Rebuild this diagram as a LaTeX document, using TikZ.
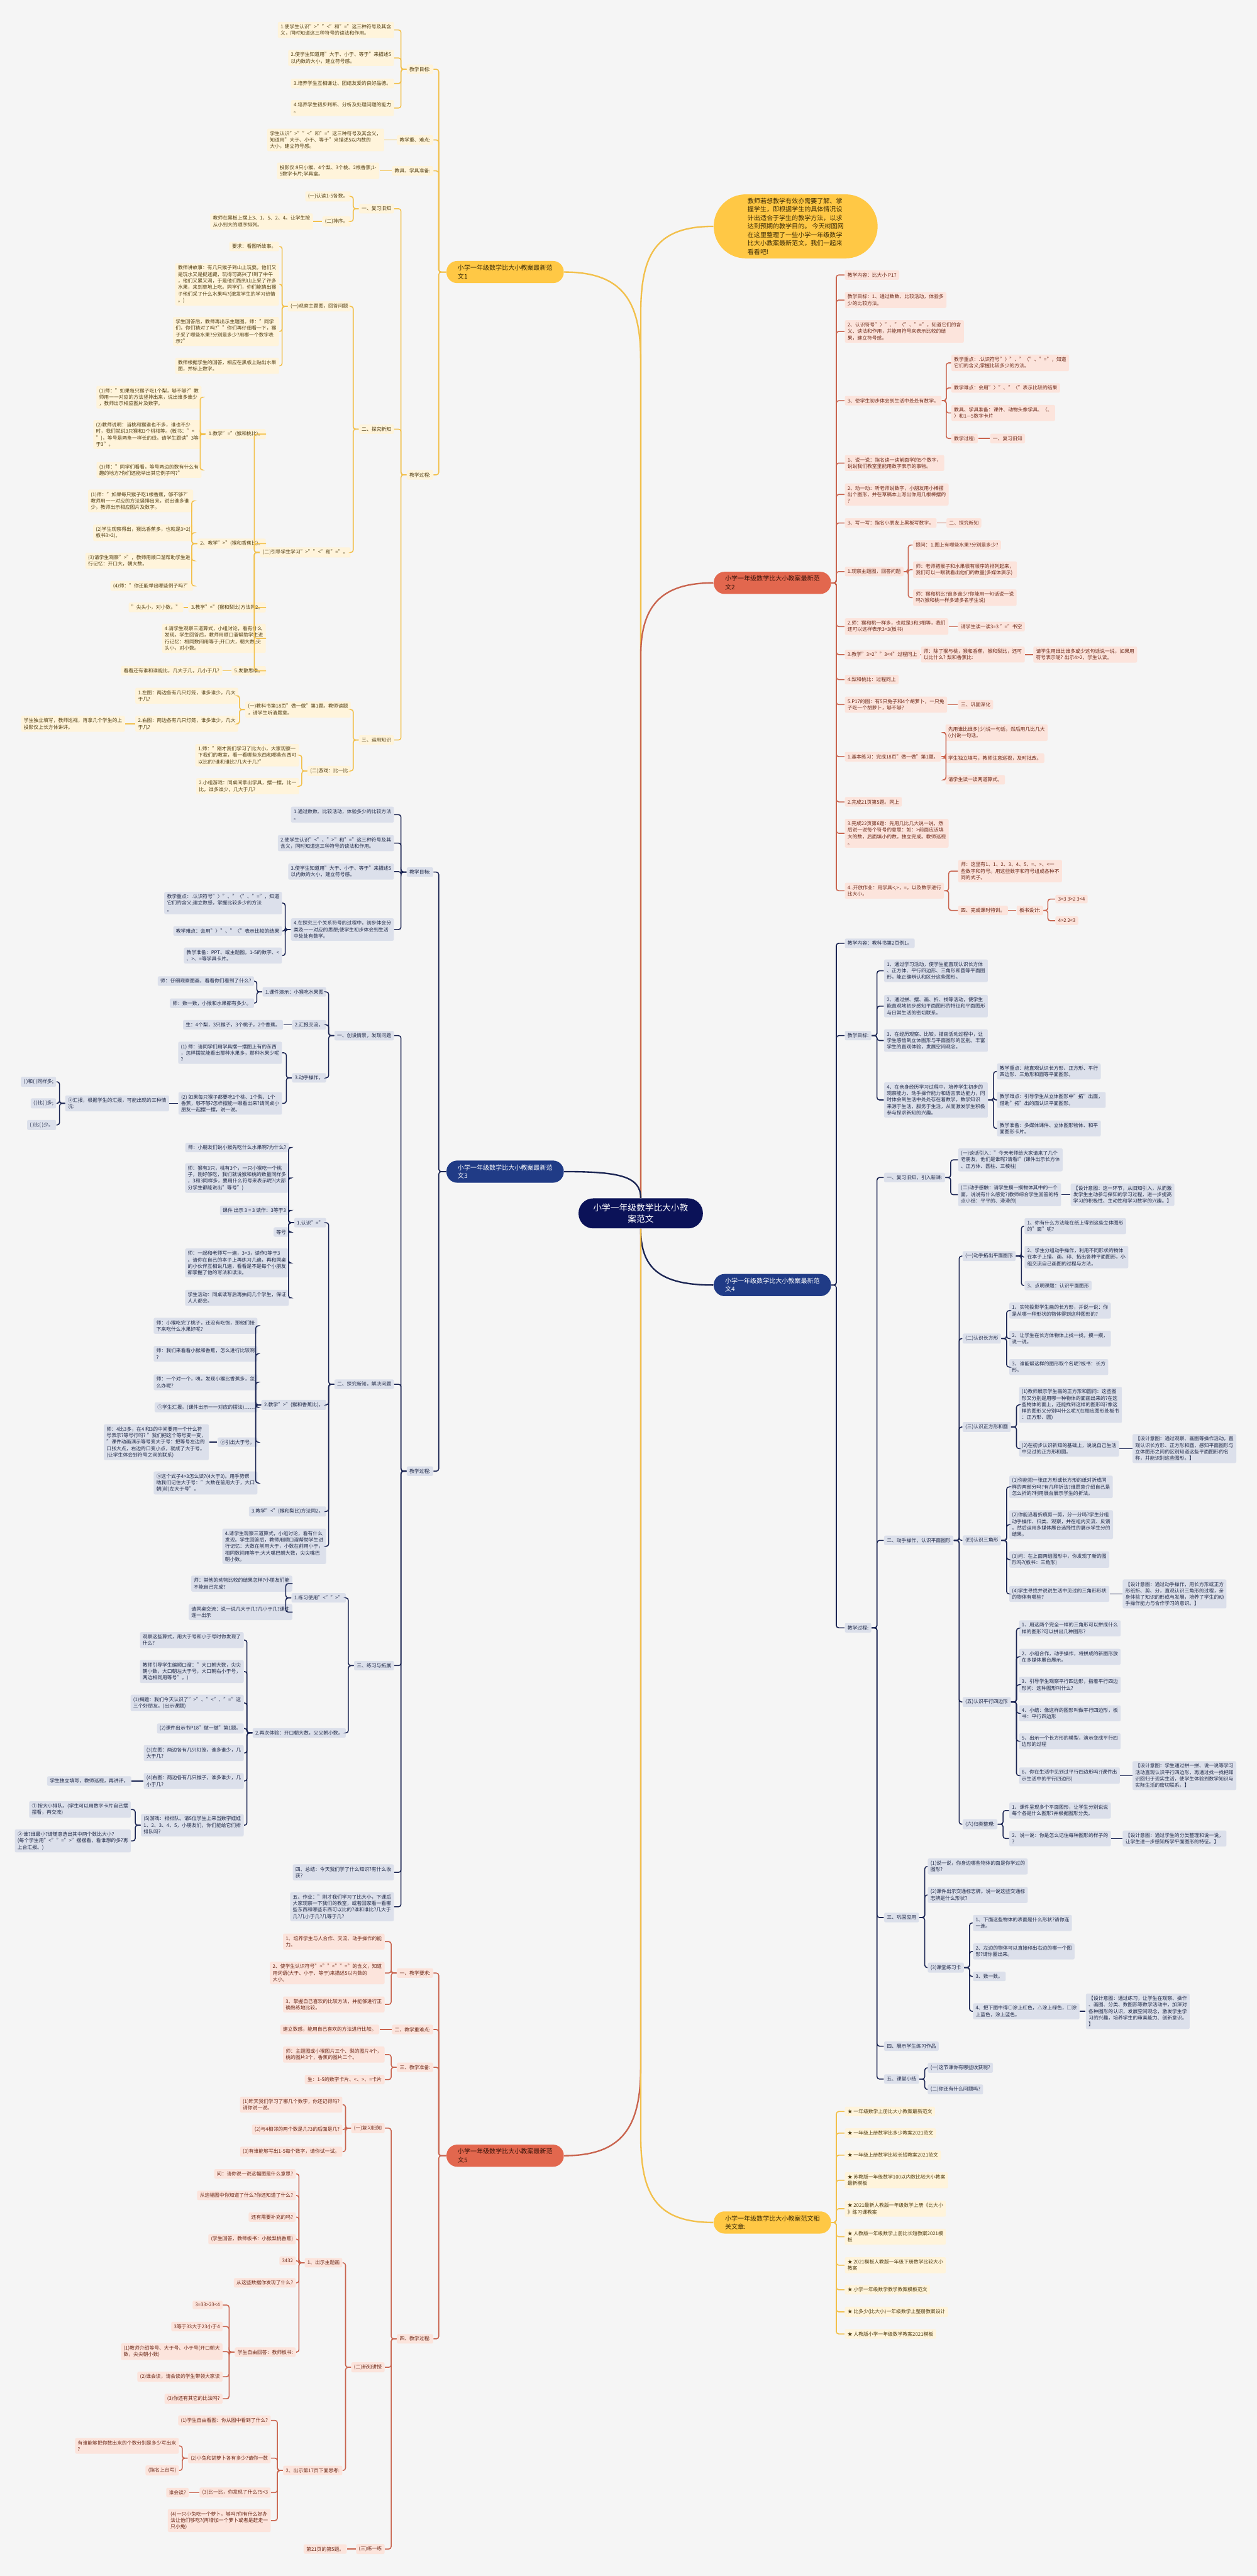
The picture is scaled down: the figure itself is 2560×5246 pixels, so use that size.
\documentclass[tikz,border=0pt]{standalone}
\usepackage{fontspec}
\setmainfont{Noto Sans CJK SC}
\usetikzlibrary{calc}

% colours
\definecolor{bgc}{HTML}{F5F5F5}
\definecolor{ctrc}{HTML}{0B1258}
\definecolor{ymain}{HTML}{FFC845}
\definecolor{ymtext}{HTML}{3B2A05}
\definecolor{yleaf}{HTML}{FFF4DB}
\definecolor{yline}{HTML}{F2C04B}
\definecolor{ytext}{HTML}{4F3C12}
\definecolor{rmain}{HTML}{E2674E}
\definecolor{rmtext}{HTML}{3A140A}
\definecolor{rleaf}{HTML}{FCE4DC}
\definecolor{rline}{HTML}{C9644E}
\definecolor{rtext}{HTML}{6B2818}
\definecolor{bmain}{HTML}{203B86}
\definecolor{bleaf}{HTML}{DCE0EB}
\definecolor{bline}{HTML}{1B2553}
\definecolor{btext}{HTML}{1F2846}

\newcommand\lvfont{\fontsize{2.85pt}{3.75pt}\selectfont}
\newcommand\mnfont{\fontsize{3.66pt}{4.9pt}\selectfont}
\newcommand\ctfont{\fontsize{5pt}{6.5pt}\selectfont}

\tikzset{
  leafbox/.style={rounded corners=0.3mm, inner xsep=0.55mm, inner ysep=0.5mm, align=left, font=\lvfont},
  ly/.style={leafbox, fill=yleaf, text=ytext},
  lr/.style={leafbox, fill=rleaf, text=rtext},
  lb/.style={leafbox, fill=bleaf, text=btext},
  mainbox/.style={rounded corners=2.2mm, inner xsep=2.3mm, inner ysep=0.8mm, align=left, font=\mnfont},
  my/.style={mainbox, fill=ymain, text=ymtext},
  mr/.style={mainbox, fill=rmain, text=rmtext},
  mb/.style={mainbox, fill=bmain, text=white},
  ky/.style={draw=yline, line width=0.2mm, rounded corners=0.5mm},
  kr/.style={draw=rline, line width=0.2mm, rounded corners=0.5mm},
  kb/.style={draw=bline, line width=0.2mm, rounded corners=0.5mm},
  cy/.style={draw=yline, line width=0.3mm},
  cr/.style={draw=rline, line width=0.3mm},
  cb/.style={draw=bline, line width=0.3mm}
}

\begin{document}
\begin{tikzpicture}[x=0.1mm, y=-0.1mm]
\fill[bgc] (0,0) rectangle (2560,5246);
\useasboundingbox (0,0) rectangle (2560,5246);

% Midden
\node[fill=ctrc, text=white, rounded corners=3mm, inner xsep=3mm, inner ysep=1.1mm, align=center, font=\ctfont] (ctr) at (1305,2471) {小学一年级数学比大小教\\案范文};

% Inleiding
\node[fill=ymain, text=ymtext, rounded corners=6.5mm, inner xsep=6.9mm, inner ysep=0.75mm, align=left, font=\mnfont, anchor=west] (intro) at (1453,461)
  {教师若想教学有效亦需要了解、掌\\握学生，即根据学生的具体情况设\\计出适合于学生的教学方法，以求\\达到预期的教学目的。 今天树图网\\在这里整理了一些小学一年级数学\\比大小教案最新范文，我们一起来\\看看吧!};

\begin{scope}[nodes={anchor=east}]
% ----范文1 ----
\node[my] (a) at (1149,554) {小学一年级数学比大小教案最新范\\文1};
\node[ly] (a1) at (883,141) {教学目标:};
\node[ly] (a2) at (883,285) {教学重、难点:};
\node[ly] (a3) at (883,348) {教具、学具准备:};
\node[ly] (a4) at (883,967) {教学过程:};
\node[ly] (a11) at (803,61) {1.使学生认识">""<"和"="这三种符号及其含\\义，同时知道这三种符号的读法和作用。};
\node[ly] (a12) at (803,118) {2.使学生知道用"大于、小于、等于"来描述5\\以内数的大小，建立符号感。};
\node[ly] (a13) at (803,170) {3.培养学生互相谦让、团结友爱的良好品德。};
\node[ly] (a14) at (803,220) {4.培养学生初步判断、分析及处理问题的能力\\。};
\node[ly] (a21) at (783,285) {学生认识">""<"和"="这三种符号及其含义，\\知道用"大于、小于、等于"来描述5以内数的\\大小，建立符号感。};
\node[ly] (a31) at (773,348) {投影仪:9只小猴、4个梨、3个桃、2根香蕉;1-\\5数字卡片;学具盒。};
\node[ly] (a41) at (803,425) {一、复习旧知};
\node[ly] (a42) at (803,874) {二、探究新知};
\node[ly] (a43) at (803,1507) {三、运用知识};
\node[ly] (a411) at (715,400) {(一)认读1-5各数。};
\node[ly] (a412) at (715,451) {(二)排序。};
\node[ly] (a4121) at (638,451) {教师在黑板上摆上3、1、5、2、4。让学生按\\从小到大的顺序排列。};
\node[ly] (a421) at (715,624) {(一)观察主题图，回答问题};
\node[ly] (a422) at (715,1125) {(二)引导学生学习">""<"和"="。};
\node[ly] (a4211) at (569,502) {要求：看图听故事。};
\node[ly] (a4212) at (569,579) {教师讲故事：有几只猴子到山上玩耍。他们又\\是玩水又是捉迷藏，玩得可高兴了!到了中午\\，他们又累又渴，于是他们跑到山上采了许多\\水果，来到草地上吃。同学们，你们能猜出猴\\子他们采了什么水果吗?(激发学生的学习热情\\。)};
\node[ly] (a4213) at (569,675) {学生回答后，教师再出示主题图。师："同学\\们，你们猜对了吗?""你们再仔细看一下，猴\\子采了哪些水果?分别是多少?用哪一个数字表\\示?"};
\node[ly] (a4214) at (569,745) {教师根据学生的回答，相应在黑板上贴出水果\\图，并标上数字。};
\node[ly] (a4221) at (542,884) {1.教学"="(猴和桃比)。};
\node[ly] (a4222) at (542,1107) {2、教学">"(猴和香蕉比)。};
\node[ly] (a4223) at (542,1237) {3.教学"<"(猴和梨比)方法同2。};
\node[ly] (a4224) at (542,1300) {4.请学生观察三道算式，小组讨论，看有什么\\发现。学生回答后，教师用顺口溜帮助学生进\\行记忆：相同数间用等于;开口大，朝大数;尖\\头小，对小数。};
\node[ly] (a4225) at (542,1366) {5.发散思维。};
\node[ly] (a42211) at (411,809) {(1)师："如果每只猴子吃1个梨，够不够?"教\\师用一一对应的方法竖排出来，说出谁多谁少\\，教师出示相应图片及数字。};
\node[ly] (a42212) at (411,885) {(2)教师说明：当桃和猴谁也不多，谁也不少\\时，我们就说3只猴和3个桃相等。(板书："=\\")，等号是两条一样长的线，请学生跟读"3等\\于3"。};
\node[ly] (a42213) at (411,957) {(3)师："同学们看看，等号两边的数有什么有\\趣的地方?你们还能举出其它例子吗?"};
\node[ly] (a42221) at (394,1020) {(1)师："如果每只猴子吃1根香蕉，够不够?"\\教师用一一对应的方法竖排出来，说出谁多谁\\少，教师出示相应图片及数字。};
\node[ly] (a42222) at (394,1085) {(2)学生观察得出，猴比香蕉多，也就是3>2(\\板书3>2)。};
\node[ly] (a42223) at (394,1142) {(3)请学生观察">"，教师用顺口溜帮助学生进\\行记忆：开口大，朝大数。};
\node[ly] (a42224) at (394,1193) {(4)师："你还能举出哪些例子吗?"};
\node[ly] (a42231) at (374,1237) {"尖头小，对小数。"};
\node[ly] (a42251) at (453,1366) {看看还有谁和谁能比，几大于几，几小于几?};
\node[ly] (a431) at (715,1445) {(一)教科书第18页"做一做"第1题。教师读题\\，请学生听清题意。};
\node[ly] (a432) at (715,1570) {(二)游戏：比一比};
\node[ly] (a4311) at (486,1417) {1.左图：两边各有几只灯笼，谁多谁少，几大\\于几?};
\node[ly] (a4312) at (486,1474) {2.右图：两边各有几只灯笼，谁多谁少，几大\\于几?};
\node[ly] (a43121) at (255,1474) {学生独立填写，教师巡视，再拿几个学生的上\\投影仪上长方体讲评。};
\node[ly] (a4321) at (610,1538) {1.师："刚才我们学习了比大小，大家观察一\\下我们的教室，看一看哪些东西和哪些东西可\\以比的?谁和谁比?几大于几?"};
\node[ly] (a4322) at (610,1601) {2.小组游戏：同桌间拿出学具，摆一摆，比一\\比，谁多谁少，几大于几?};

% ----范文3 ----
\node[mb] (c) at (1149,2386) {小学一年级数学比大小教案最新范\\文3};
\node[lb] (c1) at (883,1776) {教学目标:};
\node[lb] (c2) at (883,2996) {教学过程:};
\node[lb] (c11) at (803,1659) {1.通过数数、比较活动，体验多少的比较方法\\。};
\node[lb] (c12) at (803,1717) {2.使学生认识"<"、">"和"="这三种符号及其\\含义，同时知道这三种符号的读法和作用。};
\node[lb] (c13) at (803,1775) {3.使学生知道用"大于、小于、等于"来描述5\\以内数的大小，建立符号感。};
\node[lb] (c14) at (803,1893) {4.在探究三个关系符号的过程中，初步体会分\\类及一一对应的思想;使学生初步体会到生活\\中处处有数学。};
\node[lb] (c141) at (575,1839) {教学重点：.认识符号"〉"、"〈"、"="，知道\\它们的含义;建立数感，掌握比较多少的方法\\。};
\node[lb] (c142) at (575,1896) {教学难点：会用"〉"、"〈"表示比较的结果};
\node[lb] (c143) at (575,1946) {教学准备：PPT、或主题图。1-5的数字、<\\、>、=等学具卡片。};
\node[lb] (c21) at (803,2109) {一、创设情景，发现问题};
\node[lb] (c22) at (803,2819) {二、探究新知，解决问题};
\node[lb] (c23) at (803,3392) {三、练习与拓展};
\node[lb] (c24) at (803,3813) {四、总结：今天我们学了什么知识?有什么收\\获?};
\node[lb] (c25) at (803,3883) {五、作业："刚才我们学习了比大小，下课后\\大家观察一下我们的教室，或者回家看一看哪\\些东西和哪些东西可以比的?谁和谁比?几大于\\几?几小于几?几等于几?};
\node[lb] (c211) at (665,2020) {1.课件演示：小猴吃水果图};
\node[lb] (c212) at (665,2087) {2.汇报交流。};
\node[lb] (c213) at (665,2195) {3.动手操作。};
\node[lb] (c2111) at (518,1998) {师：仔细观察图画，看看你们看到了什么?};
\node[lb] (c2112) at (518,2043) {师：数一数，小猴和水果都有多少。};
\node[lb] (c2121) at (577,2087) {生：4个梨，3只猴子，3个桃子，2个香蕉。};
\node[lb] (c2131) at (575,2144) {(1) 师：请同学们用学具摆一摆图上有的东西\\，怎样摆就能看出那种水果多，那种水果少呢\\?};
\node[lb] (c2132) at (575,2247) {(2) 如果每只猴子都要吃1个桃、1个梨、1个\\香蕉，够不够?怎样摆能一眼看出来?请同桌小\\朋友一起摆一摆，说一说。};
\node[lb] (c21321) at (345,2247) {②汇报，根据学生的汇报，可能出现的三种情\\况:};
\node[lb] (c213211) at (115,2203) {( )和( )同样多;};
\node[lb] (c213212) at (115,2247) {( )比( )多;};
\node[lb] (c213213) at (115,2291) {( )比( )少。};
\node[lb] (c221) at (665,2490) {1.认识"="};
\node[lb] (c222) at (665,2861) {2.教学">"(猴和香蕉比)。};
\node[lb] (c223) at (665,3078) {3.教学"<"(猴和梨比)方法同2。};
\node[lb] (c224) at (665,3149) {4.请学生观察三道算式，小组讨论，看有什么\\发现。学生回答后，教师用顺口溜帮助学生进\\行记忆：大数在前用大于，小数在前用小于，\\相同数间用等于;大大嘴巴朝大数，尖尖嘴巴\\朝小数。};
\node[lb] (c2211) at (589,2337) {师：小朋友们说小猴先吃什么水果啊?为什么?};
\node[lb] (c2212) at (589,2399) {师：猴有3只，桃有3个，一只小猴吃一个桃\\子，刚好够吃，我们就说猴和桃的数量同样多\\，3和3同样多，要用什么符号来表示呢?(大部\\分学生都能说出"等号")};
\node[lb] (c2213) at (589,2465) {课件 出示 3 = 3 读作：3等于3};
\node[lb] (c2214) at (589,2509) {等号};
\node[lb] (c2215) at (589,2572) {师：一起和老师写一遍，3=3，读作3等于3\\。请你在自己的本子上再练习几遍，再和同桌\\的小伙伴互相说几遍，看看是不是每个小朋友\\都掌握了他的写法和读法。};
\node[lb] (c2216) at (589,2643) {学生活动：同桌读写后再抽问几个学生，保证\\人人都会。};
\node[lb] (c2221) at (525,2700) {师：小猴吃完了桃子，还没有吃饱，那他们接\\下来吃什么水果好呢?};
\node[lb] (c2222) at (525,2757) {师：我们来看看小猴和香蕉，怎么进行比较啊\\?};
\node[lb] (c2223) at (525,2815) {师：一个对一个，咦，发现小猴比香蕉多，怎\\么办呢?};
\node[lb] (c2224) at (525,2866) {①学生汇报。(课件出示一一对应的摆法)……};
\node[lb] (c2225) at (525,2937) {②引出大于号。};
\node[lb] (c2226) at (525,3020) {③这个式子4>3怎么读?(4大于3)。用手势帮\\助我们记住大于号："大数在前用大于，大口\\朝(前)左大于号"。};
\node[lb] (c22251) at (426,2937) {师：4比3多，在4 和3的中间要用一个什么符\\号表示?等号行吗? "我们把这个等号变一变，\\"课件动画演示等号变大于号：把等号左边的\\口张大点，右边的口变小点，就成了大于号。\\(让学生体会到符号之间的联系)};
\node[lb] (c231) at (705,3254) {1.练习使用"<"">"};
\node[lb] (c232) at (705,3529) {2.再次体验：开口朝大数，尖尖朝小数。};
\node[lb] (c2311) at (596,3225) {师：其他的动物比较的结果怎样?小朋友们能\\不能自己完成?};
\node[lb] (c2312) at (596,3283) {请同桌交流：说一说几大于几?几小于几?课件\\逐一出示};
\node[lb] (c2321) at (497,3340) {观察这些算式，用大于号和小于号时你发现了\\什么?};
\node[lb] (c2322) at (497,3404) {教师引导学生编顺口溜："大口朝大数，尖尖\\朝小数，大口朝左大于号，大口朝右小于号，\\两边相同用等号"。)};
\node[lb] (c2323) at (497,3468) {(1)揭题：我们今天认识了">"、"<"、"="这\\三个好朋友。(出示课题)};
\node[lb] (c2324) at (497,3520) {(2)课件出示书P18"做一做"第1题。};
\node[lb] (c2325) at (497,3570) {(3)左图：两边各有几只灯笼，谁多谁少，几\\大于几?};
\node[lb] (c2326) at (497,3627) {(4)右图：两边各有几只猴子，谁多谁少，几\\小于几?};
\node[lb] (c2327) at (497,3717) {(5)游戏：排排队。请5位学生上来当数字娃娃\\1、2、3、4、5，小朋友们，你们能给它们排\\排队吗?};
\node[lb] (c23261) at (268,3627) {学生独立填写，教师巡视，再讲评。};
\node[lb] (c23271) at (267,3685) {① 按大小排队。(学生可以用数字卡片自己摆\\摆看，再交流)};
\node[lb] (c23272) at (267,3749) {② 谁?谁最小?请随意选出其中两个数比大小?\\(每个学生用"<""=">"摆摆看，看谁想的多?再\\上台汇报。)};

% ----范文5 ----
\node[mr] (e) at (1149,4390) {小学一年级数学比大小教案最新范\\文5};
\node[lr] (e1) at (883,4018) {一、教学要求:};
\node[lr] (e2) at (883,4133) {二、教学重难点:};
\node[lr] (e3) at (883,4210) {三、教学准备:};
\node[lr] (e4) at (883,4763) {四、教学过程:};
\node[lr] (e11) at (784,3954) {1、培养学生与人合作、交流、动手操作的能\\力。};
\node[lr] (e12) at (784,4018) {2、使学生认识符号">""<""="的含义，知道\\用词语(大于、小于、等于)来描述5以内数的\\大小。};
\node[lr] (e13) at (784,4082) {3、掌握自己喜欢的比较方法，并能够进行正\\确熟练地比较。};
\node[lr] (e21) at (773,4133) {建立数感，能用自己喜欢的方法进行比较。};
\node[lr] (e31) at (784,4184) {师：主题图或小猴图片三个、梨的图片4个，\\桃的图片3个，香蕉的图片二个。};
\node[lr] (e32) at (784,4235) {生：1-5的数字卡片、<、>、=卡片};
\node[lr] (e41) at (784,4334) {(一)复习旧知};
\node[lr] (e42) at (784,4821) {(二)新知讲授};
\node[lr] (e43) at (784,5191) {(三)练一练};
\node[lr] (e411) at (698,4286) {(1)昨天我们学习了哪几个数字，你还记得吗?\\请你说一说。};
\node[lr] (e412) at (698,4337) {(2)与4相邻的两个数是几?3的后面是几?};
\node[lr] (e413) at (698,4382) {(3)有谁能够写出1-5每个数字，请你试一试。};
\node[lr] (e421) at (698,4608) {1、出示主题画};
\node[lr] (e422) at (698,5031) {2、出示第17页下面思考:};
\node[lr] (e4211) at (603,4427) {问：请你说一说这幅图是什么意思?};
\node[lr] (e4212) at (603,4471) {从这幅图中你知道了什么?你还知道了什么?};
\node[lr] (e4213) at (603,4515) {还有需要补充的吗?};
\node[lr] (e4214) at (603,4560) {(学生回答，教师板书：小猴梨桃香蕉)};
\node[lr] (e4215) at (603,4604) {3432};
\node[lr] (e4216) at (603,4649) {从这些数据你发现了什么?};
\node[lr] (e4217) at (603,4790) {学生自由回答：教师板书:};
\node[lr] (e42171) at (454,4694) {3=33>23<4};
\node[lr] (e42172) at (454,4738) {3等于33大于23小于4};
\node[lr] (e42173) at (454,4789) {(1)教师介绍等号、大于号、小于号(开口朝大\\数，尖尖朝小数)};
\node[lr] (e42174) at (454,4840) {(2)谁会读，请会读的学生带领大家读};
\node[lr] (e42175) at (454,4885) {(3)你还有其它的比法吗?};
\node[lr] (e4221) at (552,4929) {(1)学生自由看图：你从图中看到了什么?};
\node[lr] (e4222) at (552,5006) {(2)小兔和胡萝卜各有多少?请你一数};
\node[lr] (e4223) at (552,5076) {(3)比一比，你发现了什么?5<3};
\node[lr] (e4224) at (552,5133) {(4)一只小兔吃一个萝卜，够吗?你有什么好办\\法让他们够吃?(再增加一个萝卜或者是赶走一\\只小兔)};
\node[lr] (e42221) at (365,4981) {有谁能够把你数出来的个数分别是多少写出来\\?};
\node[lr] (e42222) at (365,5031) {(指名上台写)};
\node[lr] (e42231) at (385,5076) {谁会读?};
\node[lr] (e431) at (707,5191) {第21页的第5题。};
\end{scope}

\begin{scope}[nodes={anchor=west}]
% ----范文2 ----
\node[mr] (b) at (1453,1187) {小学一年级数学比大小教案最新范\\文2};
\node[lr] (b1) at (1720,560) {教学内容：比大小 P17};
\node[lr] (b2) at (1720,611) {教学目标：1、通过数数、比较活动，体验多\\少的比较方法。};
\node[lr] (b3) at (1720,675) {2、认识符号"〉"、"〈"、"="，知道它们的含\\义、读法和作用，并能用符号来表示比较的结\\果，建立符号感。};
\node[lr] (b4) at (1720,816) {3、使学生初步体会到生活中处处有数学。};
\node[lr] (b5) at (1720,943) {1、说一说：指名读一读前面学的5个数字，\\说说我们教室里能用数字表示的事物。};
\node[lr] (b6) at (1720,1007) {2、动一动：听老师说数字，小朋友用小棒摆\\出个图形，并在草稿本上写出你用几根棒摆的\\?};
\node[lr] (b7) at (1720,1065) {3、写一写：指名小朋友上黑板写数字。};
\node[lr] (b8) at (1720,1164) {1.观察主题图，回答问题};
\node[lr] (b9) at (1720,1276) {2.师：猴和桃一样多，也就是3和3相等，我们\\还可以这样表示3=3(板书)};
\node[lr] (b10) at (1720,1333) {3.教学"3>2""3<4"过程同上};
\node[lr] (b11) at (1720,1384) {4.梨和桃比：过程同上};
\node[lr] (b12) at (1720,1435) {5.P17的图：有5只兔子和4个胡萝卜，一只兔\\子吃一个胡萝卜，够不够?};
\node[lr] (b13) at (1720,1541) {1.基本练习：完成18页"做一做"第1题。};
\node[lr] (b14) at (1720,1633) {2.完成21页第5题。同上};
\node[lr] (b15) at (1720,1697) {3.完成22页第6题：先用几比几大说一说，然\\后说一说每个符号的意思：如：>前面应该填\\大的数，后面填小的数。独立完成。教师巡视\\。};
\node[lr] (b16) at (1720,1814) {4..开放作业：用学具<,>，=，以及数字进行\\比大小。};
\node[lr] (b41) at (1937,739) {教学重点：.认识符号"〉"、"〈"、"="，知道\\它们的含义;掌握比较多少的方法。};
\node[lr] (b42) at (1937,790) {教学难点：会用"〉"、"〈"表示比较的结果};
\node[lr] (b43) at (1937,841) {教具、学具准备：课件、动物头像学具、〈、\\〉和1—5数字卡片};
\node[lr] (b44) at (1937,893) {教学过程:};
\node[lr] (b441) at (2016,893) {一、复习旧知};
\node[lr] (b71) at (1927,1065) {二、探究新知};
\node[lr] (b81) at (1859,1110) {提问：1.图上有哪些水果?分别是多少?};
\node[lr] (b82) at (1859,1160) {师：老师把猴子和水果很有顺序的排列起来，\\我们可以一眼就看出他们的数量(多媒体演示)};
\node[lr] (b83) at (1859,1217) {师：猴和桃比?谁多谁少?你能用一句话说一说\\吗?(猴和桃一样多请多名学生说)};
\node[lr] (b91) at (1951,1276) {请学生读一读3=3 "="书空};
\node[lr] (b101) at (1875,1333) {师：除了猴与桃，猴和香蕉，猴和梨比，还可\\以比什么? 梨和香蕉比:};
\node[lr] (b1011) at (2104,1333) {请学生用谁比谁多或少这句话说一说，如果用\\符号表示呢? 出示4>2，学生认读。};
\node[lr] (b121) at (1951,1435) {三、巩固深化};
\node[lr] (b131) at (1925,1492) {先用谁比谁多(少)说一句话，然后用几比几大\\(小)说一句话。};
\node[lr] (b132) at (1925,1544) {学生独立填写，教师注意巡视，及时批改。};
\node[lr] (b133) at (1925,1588) {请学生读一读两道算式。};
\node[lr] (b161) at (1951,1774) {师：这里有1、1、2、3、4、5、=、>、<一\\些数字和符号。用这些数字和符号组成各种不\\同的式子。};
\node[lr] (b162) at (1951,1854) {四、完成课时特训。};
\node[lr] (b1621) at (2070,1854) {板书设计:};
\node[lr] (b16211) at (2149,1831) {3=3 3>2 3<4};
\node[lr] (b16212) at (2149,1875) {4>2 2<3};

% ----范文4 ----
\node[mb] (d) at (1453,2617) {小学一年级数学比大小教案最新范\\文4};
\node[lb] (d1) at (1720,1921) {教学内容：教科书第2页例1。};
\node[lb] (d2) at (1720,2109) {教学目标:};
\node[lb] (d3) at (1720,3315) {教学过程:};
\node[lb] (d21) at (1800,1977) {1、通过学习活动，使学生能直观认识长方体\\、正方体、平行四边形、三角形和圆等平面图\\形，能正确辨认和区分这些图形。};
\node[lb] (d22) at (1800,2049) {2、通过拼、摆、画、折、找等活动，使学生\\能直观地初步感知平面图形的特征和平面图形\\与日常生活的密切联系。};
\node[lb] (d23) at (1800,2119) {3、在经历观察、比较，描画活动过程中，让\\学生感悟到立体图形与平面图形的区别。丰富\\学生的直观体验，发展空间观念。};
\node[lb] (d24) at (1800,2240) {4、在亲身经历学习过程中，培养学生初步的\\观察能力、动手操作能力和语言表达能力，同\\时体会到生活中处处存在着数学，数学知识\\来源于生活，服务于生活，从而激发学生积极\\参与探求新知的兴趣。};
\node[lb] (d241) at (2030,2182) {教学重点：能直观认识长方形、正方形、平行\\四边形、三角形和圆等平面图形。};
\node[lb] (d242) at (2030,2240) {教学难点：引导学生从立体图形中"拓"出面，\\借助"拓"出的面认识平面图形。};
\node[lb] (d243) at (2030,2298) {教学准备：多媒体课件、立体图形物体、和平\\面图形卡片。};
\node[lb] (d31) at (1800,2398) {一、复习旧知，引入新课:};
\node[lb] (d32) at (1800,3137) {二、动手操作，认识平面图形};
\node[lb] (d33) at (1800,3905) {三、巩固应用};
\node[lb] (d34) at (1800,4167) {四、展示学生练习作品};
\node[lb] (d35) at (1800,4234) {五、课堂小结};
\node[lb] (d311) at (1951,2362) {(一)谈话引入："今天老师给大家请来了几个\\老朋友，他们是谁呢?请看!"(课件出示长方体\\、正方体、圆柱、三棱柱)};
\node[lb] (d312) at (1951,2433) {(二)动手感触：请学生摸一摸物体其中的一个\\面，说说有什么感觉?(教师综合学生回答的特\\点小结：平平的、滑滑的)};
\node[lb] (d3121) at (2180,2433) {【设计意图：这一环节，从旧知引入，从而激\\发学生主动参与探知的学习过程，进一步提高\\学习的积极性、主动性和学习数学的兴趣。】};
\node[lb] (d321) at (1960,2558) {(一)动手拓出平面图形};
\node[lb] (d322) at (1960,2726) {(二)认识长方形};
\node[lb] (d323) at (1960,2906) {(三)认识正方形和圆};
\node[lb] (d324) at (1960,3137) {(四)认识三角形};
\node[lb] (d325) at (1960,3466) {(五)认识平行四边形};
\node[lb] (d326) at (1960,3715) {(六)归类整理:};
\node[lb] (d3211) at (2086,2497) {1、你有什么方法能在纸上得到这些立体图形\\的"面"呢?};
\node[lb] (d3212) at (2086,2560) {2、学生分组动手操作，利用不同形状的物体\\在本子上描、画、印、拓出各种平面图形，小\\组交流自己画图的过程与方法。};
\node[lb] (d3213) at (2086,2618) {3、点明课题：认识平面图形};
\node[lb] (d3221) at (2055,2669) {1、实物投影学生画的长方形，并说一说：你\\是从哪一种形状的物体得到这种图形的?};
\node[lb] (d3222) at (2055,2726) {2、让学生在长方体物体上找一找，摸一摸，\\说一说。};
\node[lb] (d3223) at (2055,2784) {3、谁能帮这样的图形取个名呢?板书：长方\\形。};
\node[lb] (d3231) at (2075,2861) {(1)教师展示学生画的正方形和圆问：这些图\\形又分别是用哪一种物体的面画出来的?在这\\些物体的面上，还能找到这样的图形吗?像这\\样的图形又分别叫什么呢?(在相应图形处板书\\：正方形、圆)};
\node[lb] (d3232) at (2075,2950) {(2)在初步认识新知的基础上，说说自己生活\\中见过的正方形和圆。};
\node[lb] (d32321) at (2306,2950) {【设计意图：通过观察、画图等操作活动，直\\观认识长方形、正方形和圆，感知平面图形与\\立体图形之间的区别知道这些平面图形的名\\称，并能识别这些图形。】};
\node[lb] (d3241) at (2055,3028) {(1)你能把一张正方形或长方形的纸对折成同\\样的两部分吗?有几种折法?谁愿意介绍自己是\\怎么折的?利用展台展示学生的折法。};
\node[lb] (d3242) at (2055,3105) {(2)你能沿着折痕剪一剪，分一分吗?学生分组\\动手操作、归类、观察，并在组内交流、反馈\\。然后运用多媒体展台选择性的展示学生分的\\结果。};
\node[lb] (d3243) at (2055,3176) {(3)问：在上面两组图形中，你发现了新的图\\形吗?(板书：三角形)};
\node[lb] (d3244) at (2055,3246) {(4)学生寻找并说说生活中见过的三角形形状\\的物体有哪些?};
\node[lb] (d32441) at (2286,3246) {【设计意图：通过动手操作，用长方形或正方\\形纸折、剪、分，直观认识三角形的过程，亲\\身体验了知识的形成与发展，培养了学生的动\\手操作能力与合作学习的意识。】};
\node[lb] (d3251) at (2075,3316) {1、用这两个完全一样的三角形可以拼成什么\\样的图形?可以拼出几种图形?};
\node[lb] (d3252) at (2075,3374) {2、小组合作，动手操作，将拼成的新图形放\\在多媒体展台展示。};
\node[lb] (d3253) at (2075,3431) {3、引导学生观察平行四边形，指着平行四边\\形问：这种图形叫什么?};
\node[lb] (d3254) at (2075,3489) {4、小结：像这样的图形叫做平行四边形，板\\书：平行四边形};
\node[lb] (d3255) at (2075,3546) {5、出示一个长方形的模型，演示变成平行四\\边形的过程};
\node[lb] (d3256) at (2075,3616) {6、你在生活中见到过平行四边形吗?(课件出\\示生活中的平行四边形)};
\node[lb] (d32561) at (2306,3616) {【设计意图：学生通过拼一拼、说一说等学习\\活动直观认识平行四边形，再通过找一找把知\\识回归于现实生活，使学生体验到数学知识与\\实际生活的密切联系。】};
\node[lb] (d3261) at (2055,3687) {1、课件呈现多个平面图形，让学生分别说说\\每个各是什么图形?并根据图形分类。};
\node[lb] (d3262) at (2055,3744) {2、说一说：你是怎么记住每种图形的样子的\\?};
\node[lb] (d32621) at (2286,3744) {【设计意图：通过学生的分类整理和说一说，\\让学生进一步感知所学平面图形的特征。】};
\node[lb] (d331) at (1889,3801) {(1)说一说，你身边哪些物体的面是你学过的\\图形?};
\node[lb] (d332) at (1889,3859) {(2)课件出示交通标志牌。说一说这些交通标\\志牌是什么形状?};
\node[lb] (d333) at (1889,4007) {(3)课堂练习卡};
\node[lb] (d3331) at (1981,3916) {1、下面这些物体的表面是什么形状?请你连\\一连。};
\node[lb] (d3332) at (1981,3974) {2、左边的物体可以直接印出右边的哪一个图\\形?请你圈出来。};
\node[lb] (d3333) at (1981,4025) {3、数一数。};
\node[lb] (d3334) at (1981,4096) {4、把下图中得○涂上红色，△涂上绿色，□涂\\上蓝色，涂上蓝色。};
\node[lb] (d33341) at (2211,4096) {【设计意图：通过练习，让学生在观察、操作\\、画图、分类、数图形等数学活动中，加深对\\各种图形的认识，发展空间观念，激发学生学\\习的兴趣，培养学生的审美能力、创新意识。\\】};
\node[lb] (d351) at (1889,4211) {(一)这节课你有哪些收获呢?};
\node[lb] (d352) at (1889,4255) {(二)你还有什么问题吗?};

% ---- Related articles ----
\node[my] (f) at (1453,4526) {小学一年级数学比大小教案范文相\\关文章:};
\node[ly] (f1) at (1720,4300) {★ 一年级数学上册比大小教案最新范文};
\node[ly] (f2) at (1720,4344) {★ 一年级上册数学比多少教案2021范文};
\node[ly] (f3) at (1720,4389) {★ 一年级上册数学比较长短教案2021范文};
\node[ly] (f4) at (1720,4440) {★ 苏教版一年级数学100以内数比较大小教案\\最新模板};
\node[ly] (f5) at (1720,4498) {★ 2021最新人教版一年级数学上册《比大小\\》练习课教案};
\node[ly] (f6) at (1720,4555) {★ 人教版一年级数学上册比长短教案2021模\\板};
\node[ly] (f7) at (1720,4613) {★ 2021模板人教版一年级下册数学比较大小\\教案};
\node[ly] (f8) at (1720,4663) {★ 小学一年级数学教学教案模板范文};
\node[ly] (f9) at (1720,4708) {★ 比多少(比大小)一年级数学上整册教案设计};
\node[ly] (f10) at (1720,4753) {★ 人教版小学一年级数学教案2021模板};
\end{scope}

% Verbindingen vanuit het midden
\draw[cy] (ctr.north) -- ($(ctr.north |- a.east)+(0,180)$) .. controls +(0,-120) and +(120,0) .. (a.east);
\draw[cy] (ctr.north) -- ($(ctr.north |- intro.west)+(0,180)$) .. controls +(0,-120) and +(-120,0) .. (intro.west);
\draw[cr] (ctr.north) -- ($(ctr.north |- b.west)+(0,150)$) .. controls +(0,-100) and +(-110,0) .. (b.west);
\draw[cb] (ctr.north) .. controls +(0,-45) and +(110,0) .. (c.east);
\draw[cb] (ctr.south) .. controls +(0,80) and +(-110,0) .. (d.west);
\draw[cr] (ctr.south) -- ($(ctr.south |- e.east)+(0,-180)$) .. controls +(0,120) and +(120,0) .. (e.east);
\draw[cy] (ctr.south) -- ($(ctr.south |- f.west)+(0,-180)$) .. controls +(0,120) and +(-120,0) .. (f.west);

% Takken links: 范文1
\foreach \ch in {a1,a2,a3,a4} \draw[ky] (a.west) -- ++(-15,0) |- (\ch.east);
\foreach \ch in {a11,a12,a13,a14} \draw[ky] (a1.west) -- ++(-11,0) |- (\ch.east);
\draw[ky] (a2.west) -- (a21.east);
\draw[ky] (a3.west) -- (a31.east);
\foreach \ch in {a41,a42,a43} \draw[ky] (a4.west) -- ++(-11,0) |- (\ch.east);
\foreach \ch in {a411,a412} \draw[ky] (a41.west) -- ++(-11,0) |- (\ch.east);
\draw[ky] (a412.west) -- (a4121.east);
\foreach \ch in {a421,a422} \draw[ky] (a42.west) -- ++(-11,0) |- (\ch.east);
\foreach \ch in {a4211,a4212,a4213,a4214} \draw[ky] (a421.west) -- ++(-11,0) |- (\ch.east);
\foreach \ch in {a4221,a4222,a4223,a4224,a4225} \draw[ky] (a422.west) -- ++(-11,0) |- (\ch.east);
\foreach \ch in {a42211,a42212,a42213} \draw[ky] (a4221.west) -- ++(-11,0) |- (\ch.east);
\foreach \ch in {a42221,a42222,a42223,a42224} \draw[ky] (a4222.west) -- ++(-11,0) |- (\ch.east);
\draw[ky] (a4223.west) -- (a42231.east);
\draw[ky] (a4225.west) -- (a42251.east);
\foreach \ch in {a431,a432} \draw[ky] (a43.west) -- ++(-11,0) |- (\ch.east);
\foreach \ch in {a4311,a4312} \draw[ky] (a431.west) -- ++(-11,0) |- (\ch.east);
\draw[ky] (a4312.west) -- (a43121.east);
\foreach \ch in {a4321,a4322} \draw[ky] (a432.west) -- ++(-11,0) |- (\ch.east);

% Takken links: 范文3
\foreach \ch in {c1,c2} \draw[kb] (c.west) -- ++(-15,0) |- (\ch.east);
\foreach \ch in {c11,c12,c13,c14} \draw[kb] (c1.west) -- ++(-11,0) |- (\ch.east);
\foreach \ch in {c141,c142,c143} \draw[kb] (c14.west) -- ++(-11,0) |- (\ch.east);
\foreach \ch in {c21,c22,c23,c24,c25} \draw[kb] (c2.west) -- ++(-11,0) |- (\ch.east);
\foreach \ch in {c211,c212,c213} \draw[kb] (c21.west) -- ++(-11,0) |- (\ch.east);
\foreach \ch in {c2111,c2112} \draw[kb] (c211.west) -- ++(-11,0) |- (\ch.east);
\draw[kb] (c212.west) -- (c2121.east);
\foreach \ch in {c2131,c2132} \draw[kb] (c213.west) -- ++(-11,0) |- (\ch.east);
\draw[kb] (c2132.west) -- (c21321.east);
\foreach \ch in {c213211,c213212,c213213} \draw[kb] (c21321.west) -- ++(-11,0) |- (\ch.east);
\foreach \ch in {c221,c222,c223,c224} \draw[kb] (c22.west) -- ++(-11,0) |- (\ch.east);
\foreach \ch in {c2211,c2212,c2213,c2214,c2215,c2216} \draw[kb] (c221.west) -- ++(-11,0) |- (\ch.east);
\foreach \ch in {c2221,c2222,c2223,c2224,c2225,c2226} \draw[kb] (c222.west) -- ++(-11,0) |- (\ch.east);
\draw[kb] (c2225.west) -- (c22251.east);
\foreach \ch in {c231,c232} \draw[kb] (c23.west) -- ++(-11,0) |- (\ch.east);
\foreach \ch in {c2311,c2312} \draw[kb] (c231.west) -- ++(-11,0) |- (\ch.east);
\foreach \ch in {c2321,c2322,c2323,c2324,c2325,c2326,c2327} \draw[kb] (c232.west) -- ++(-11,0) |- (\ch.east);
\draw[kb] (c2326.west) -- (c23261.east);
\foreach \ch in {c23271,c23272} \draw[kb] (c2327.west) -- ++(-11,0) |- (\ch.east);

% Takken links: 范文5
\foreach \ch in {e1,e2,e3,e4} \draw[kr] (e.west) -- ++(-15,0) |- (\ch.east);
\foreach \ch in {e11,e12,e13} \draw[kr] (e1.west) -- ++(-11,0) |- (\ch.east);
\draw[kr] (e2.west) -- (e21.east);
\foreach \ch in {e31,e32} \draw[kr] (e3.west) -- ++(-11,0) |- (\ch.east);
\foreach \ch in {e41,e42,e43} \draw[kr] (e4.west) -- ++(-11,0) |- (\ch.east);
\foreach \ch in {e411,e412,e413} \draw[kr] (e41.west) -- ++(-11,0) |- (\ch.east);
\foreach \ch in {e421,e422} \draw[kr] (e42.west) -- ++(-11,0) |- (\ch.east);
\foreach \ch in {e4211,e4212,e4213,e4214,e4215,e4216,e4217} \draw[kr] (e421.west) -- ++(-11,0) |- (\ch.east);
\foreach \ch in {e42171,e42172,e42173,e42174,e42175} \draw[kr] (e4217.west) -- ++(-11,0) |- (\ch.east);
\foreach \ch in {e4221,e4222,e4223,e4224} \draw[kr] (e422.west) -- ++(-11,0) |- (\ch.east);
\foreach \ch in {e42221,e42222} \draw[kr] (e4222.west) -- ++(-11,0) |- (\ch.east);
\draw[kr] (e4223.west) -- (e42231.east);
\draw[kr] (e43.west) -- (e431.east);

% Takken rechts: 范文2
\foreach \ch in {b1,b2,b3,b4,b5,b6,b7,b8,b9,b10,b11,b12,b13,b14,b15,b16} \draw[kr] (b.east) -- ++(10,0) |- (\ch.west);
\foreach \ch in {b41,b42,b43,b44} \draw[kr] (b4.east) -- ++(9,0) |- (\ch.west);
\draw[kr] (b44.east) -- (b441.west);
\draw[kr] (b7.east) -- (b71.west);
\foreach \ch in {b81,b82,b83} \draw[kr] (b8.east) -- ++(9,0) |- (\ch.west);
\draw[kr] (b9.east) -- (b91.west);
\draw[kr] (b10.east) -- (b101.west);
\draw[kr] (b101.east) -- (b1011.west);
\draw[kr] (b12.east) -- (b121.west);
\foreach \ch in {b131,b132,b133} \draw[kr] (b13.east) -- ++(9,0) |- (\ch.west);
\foreach \ch in {b161,b162} \draw[kr] (b16.east) -- ++(9,0) |- (\ch.west);
\draw[kr] (b162.east) -- (b1621.west);
\foreach \ch in {b16211,b16212} \draw[kr] (b1621.east) -- ++(9,0) |- (\ch.west);

% Takken rechts: 范文4
\foreach \ch in {d1,d2,d3} \draw[kb] (d.east) -- ++(10,0) |- (\ch.west);
\foreach \ch in {d21,d22,d23,d24} \draw[kb] (d2.east) -- ++(11,0) |- (\ch.west);
\foreach \ch in {d241,d242,d243} \draw[kb] (d24.east) -- ++(11,0) |- (\ch.west);
\foreach \ch in {d31,d32,d33,d34,d35} \draw[kb] (d3.east) -- ++(11,0) |- (\ch.west);
\foreach \ch in {d311,d312} \draw[kb] (d31.east) -- ++(11,0) |- (\ch.west);
\draw[kb] (d312.east) -- (d3121.west);
\foreach \ch in {d321,d322,d323,d324,d325,d326} \draw[kb] (d32.east) -- ++(11,0) |- (\ch.west);
\foreach \ch in {d3211,d3212,d3213} \draw[kb] (d321.east) -- ++(11,0) |- (\ch.west);
\foreach \ch in {d3221,d3222,d3223} \draw[kb] (d322.east) -- ++(11,0) |- (\ch.west);
\foreach \ch in {d3231,d3232} \draw[kb] (d323.east) -- ++(11,0) |- (\ch.west);
\draw[kb] (d3232.east) -- (d32321.west);
\foreach \ch in {d3241,d3242,d3243,d3244} \draw[kb] (d324.east) -- ++(11,0) |- (\ch.west);
\draw[kb] (d3244.east) -- (d32441.west);
\foreach \ch in {d3251,d3252,d3253,d3254,d3255,d3256} \draw[kb] (d325.east) -- ++(11,0) |- (\ch.west);
\draw[kb] (d3256.east) -- (d32561.west);
\foreach \ch in {d3261,d3262} \draw[kb] (d326.east) -- ++(11,0) |- (\ch.west);
\draw[kb] (d3262.east) -- (d32621.west);
\foreach \ch in {d331,d332,d333} \draw[kb] (d33.east) -- ++(11,0) |- (\ch.west);
\foreach \ch in {d3331,d3332,d3333,d3334} \draw[kb] (d333.east) -- ++(11,0) |- (\ch.west);
\draw[kb] (d3334.east) -- (d33341.west);
\foreach \ch in {d351,d352} \draw[kb] (d35.east) -- ++(11,0) |- (\ch.west);

% Takken rechts: related articles
\foreach \ch in {f1,f2,f3,f4,f5,f6,f7,f8,f9,f10} \draw[ky] (f.east) -- ++(10,0) |- (\ch.west);

\end{tikzpicture}
\end{document}
